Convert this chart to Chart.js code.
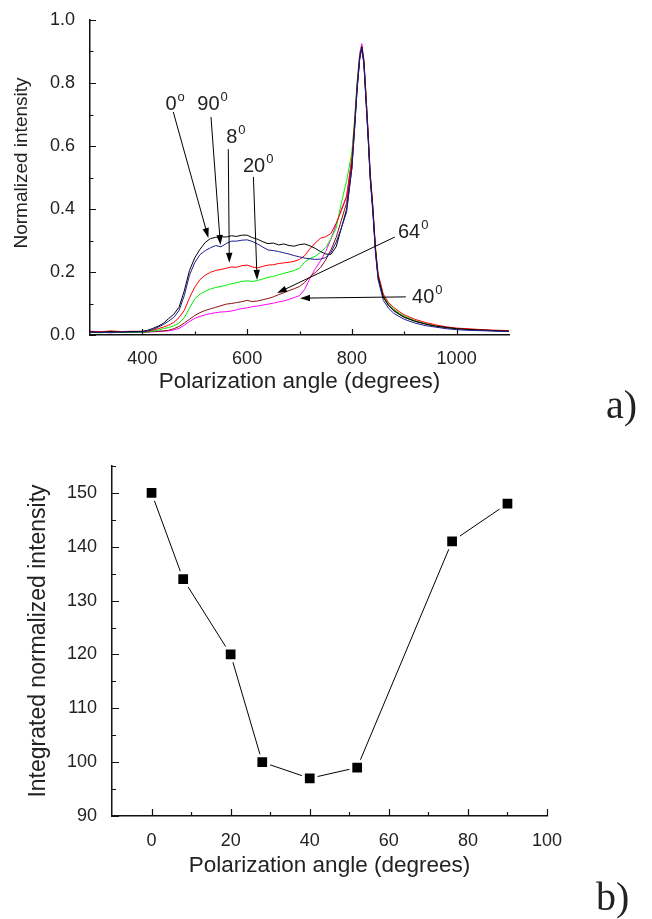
<!DOCTYPE html>
<html>
<head>
<meta charset="utf-8">
<script src="https://cdn.jsdelivr.net/npm/chart.js@4.4.0/dist/chart.umd.min.js"></script>
<style>
  html, body { margin: 0; padding: 0; background: #fff; }
  body { width: 652px; height: 919px; position: relative; overflow: hidden; }
  .box { position: absolute; left: 0; width: 652px; }
  #top { top: 0; height: 440px; }
  #bottom { top: 440px; height: 479px; }
</style>
</head>
<body>
<div class="box" id="top"><canvas id="spectra"></canvas></div>
<div class="box" id="bottom"><canvas id="integrated"></canvas></div>
<script>
// ---- panel a) spectra ----
const xs = [300,320,340,360,380,
  400,410,420,430,440,450,460,470,480,490,
  500,510,520,530,540,550,560,570,580,590,
  600,610,620,630,640,650,660,670,680,690,
  700,710,720,730,740,750,760,770,780,790,
  800,805,810,815,819,823,827,831,835,840,845,850,
  860,870,880,890,900,
  920,940,960,980,1000,1020,1040,1060,1080,1100];

const deg0 = [0.010,0.008,0.011,0.009,0.011,
  0.012,0.015,0.021,0.028,0.037,0.052,0.066,0.088,0.140,0.205,
  0.245,0.272,0.294,0.306,0.310,0.312,0.311,0.315,0.313,0.317,
  0.317,0.309,0.304,0.296,0.290,0.292,0.286,0.289,0.284,0.282,
  0.287,0.289,0.283,0.275,0.265,0.257,0.256,0.280,0.340,0.400,
  0.530,0.650,0.780,0.880,0.915,0.860,0.740,0.630,0.500,0.400,0.270,0.185,
  0.120,0.094,0.077,0.066,0.056,
  0.044,0.035,0.028,0.024,0.020,0.018,0.016,0.015,0.013,0.012];

const deg90 = [0.008,0.009,0.007,0.010,0.009,
  0.010,0.013,0.017,0.025,0.033,0.044,0.056,0.078,0.125,0.190,
  0.230,0.255,0.268,0.277,0.284,0.280,0.290,0.298,0.298,0.301,
  0.302,0.297,0.289,0.279,0.270,0.268,0.265,0.261,0.257,0.252,
  0.248,0.244,0.242,0.240,0.241,0.246,0.262,0.295,0.340,0.390,
  0.530,0.650,0.780,0.875,0.910,0.860,0.745,0.625,0.495,0.390,0.262,0.176,
  0.110,0.085,0.069,0.059,0.050,
  0.038,0.030,0.025,0.020,0.017,0.015,0.014,0.013,0.012,0.011];

const deg8 = [0.012,0.010,0.013,0.011,0.012,
  0.011,0.012,0.015,0.020,0.025,0.031,0.040,0.055,0.078,0.118,
  0.152,0.176,0.190,0.199,0.205,0.208,0.212,0.216,0.215,0.220,
  0.222,0.216,0.213,0.218,0.222,0.223,0.227,0.229,0.231,0.234,
  0.240,0.252,0.274,0.292,0.307,0.312,0.322,0.355,0.395,0.440,
  0.560,0.670,0.790,0.885,0.915,0.870,0.760,0.645,0.515,0.410,0.280,0.195,
  0.130,0.103,0.087,0.075,0.064,
  0.050,0.040,0.032,0.026,0.022,0.020,0.018,0.016,0.015,0.014];

const deg20 = [0.008,0.007,0.009,0.008,0.008,
  0.009,0.010,0.012,0.015,0.020,0.024,0.029,0.038,0.055,0.085,
  0.115,0.130,0.139,0.146,0.151,0.154,0.158,0.163,0.166,0.170,
  0.172,0.170,0.173,0.178,0.183,0.186,0.191,0.196,0.200,0.205,
  0.212,0.232,0.243,0.250,0.262,0.278,0.305,0.340,0.420,0.490,
  0.580,0.680,0.800,0.890,0.915,0.870,0.760,0.640,0.510,0.405,0.275,0.190,
  0.125,0.098,0.082,0.070,0.060,
  0.046,0.036,0.029,0.024,0.020,0.018,0.016,0.015,0.013,0.012];

const deg64 = [0.009,0.010,0.008,0.009,0.010,
  0.009,0.010,0.011,0.012,0.013,0.015,0.020,0.027,0.038,0.050,
  0.062,0.071,0.078,0.083,0.088,0.093,0.098,0.100,0.103,0.106,
  0.110,0.106,0.108,0.112,0.116,0.121,0.128,0.134,0.141,0.147,
  0.154,0.167,0.185,0.198,0.214,0.238,0.270,0.310,0.365,0.420,
  0.550,0.660,0.790,0.880,0.915,0.865,0.755,0.635,0.505,0.400,0.270,0.185,
  0.120,0.094,0.078,0.067,0.057,
  0.044,0.035,0.028,0.023,0.020,0.017,0.016,0.014,0.013,0.012];

const deg40 = [0.011,0.010,0.009,0.011,0.010,
  0.009,0.009,0.010,0.011,0.012,0.013,0.016,0.021,0.031,0.043,
  0.053,0.059,0.064,0.068,0.071,0.073,0.074,0.076,0.080,0.084,
  0.086,0.090,0.092,0.095,0.098,0.101,0.105,0.108,0.113,0.119,
  0.125,0.145,0.180,0.210,0.235,0.265,0.305,0.350,0.400,0.440,
  0.560,0.670,0.800,0.895,0.925,0.875,0.760,0.640,0.510,0.405,0.272,0.187,
  0.122,0.096,0.080,0.068,0.058,
  0.045,0.036,0.029,0.024,0.020,0.018,0.016,0.015,0.013,0.012];

const spectraXTicks = [400, 600, 800, 1000];
const spectraXMinor = [500, 700, 900];
const spectraYTicks = [0, 0.2, 0.4, 0.6, 0.8, 1.0];
const spectraYMinor = [0.1, 0.3, 0.5, 0.7, 0.9];

// annotation labels, in data units (angle label, superscript, label spot, arrow tail, arrow head)
const noteText = ['0', '90', '8', '20', '64', '40'];
const noteSup = ['o', '0', '0', '0', '0', '0'];
const noteAt = [[444, 0.714], [505, 0.714], [560, 0.61], [592, 0.517], [888, 0.308], [915, 0.102]];
const noteFrom = [[459, 0.708], [531, 0.692], [564, 0.59], [612, 0.502], [882, 0.311], [903, 0.121]];
const noteTo = [[526, 0.308], [549, 0.286], [566, 0.229], [619, 0.175], [657, 0.133], [701, 0.117]];

// ---- panel b) integrated intensity ----
const angles = [0, 8, 20, 28, 40, 52, 76, 90];
const integrated = [150, 134, 120, 100, 97, 99, 141, 148];
const angleTicks = [0, 20, 40, 60, 80, 100];
const angleMinor = [10, 30, 50, 70, 90];
const intTicks = [90, 100, 110, 120, 130, 140, 150];
const intMinor = [95, 105, 115, 125, 135, 145, 155];

const FONT = "'Liberation Sans', Arial, sans-serif";
const TEXT = '#222';

const axisTicks = {
  id: 'axisTicks',
  afterDraw(chart, args, o) {
    const {ctx, chartArea: a, scales: {x, y}} = chart;
    ctx.save();
    ctx.strokeStyle = '#111';
    ctx.lineWidth = 1.2;
    ctx.beginPath();
    const tick = (vals, len, dir) => vals.forEach(v => {
      if (dir === 'x') {
        const p = Math.round(x.getPixelForValue(v)) + 0.5;
        ctx.moveTo(p, a.bottom);
        ctx.lineTo(p, a.bottom - len);
      } else {
        const p = Math.round(y.getPixelForValue(v)) + 0.5;
        ctx.moveTo(a.left, p);
        ctx.lineTo(a.left + len, p);
      }
    });
    tick(o.xMajor, o.major, 'x');
    tick(o.xMinor, o.minor, 'x');
    tick(o.yMajor, o.major, 'y');
    tick(o.yMinor, o.minor, 'y');
    ctx.stroke();
    ctx.restore();
  }
};

const extraText = {
  id: 'extraText',
  afterDraw(chart, args, o) {
    const ctx = chart.ctx;
    ctx.save();
    ctx.fillStyle = TEXT;
    if (o.yTitle) {
      ctx.translate(o.yTitle.x, o.yTitle.y);
      ctx.rotate(-Math.PI / 2);
      ctx.font = '19px ' + FONT;
      ctx.textAlign = 'center';
      ctx.textBaseline = 'middle';
      ctx.fillText(o.yTitle.text, 0, 0);
      ctx.setTransform(1, 0, 0, 1, 0, 0);
    }
    ctx.font = "40px 'Liberation Serif', 'Times New Roman', serif";
    ctx.textAlign = 'left';
    ctx.textBaseline = 'alphabetic';
    ctx.fillText(o.panel.text, o.panel.x, o.panel.y);
    ctx.restore();
  }
};

const arrowNotes = {
  id: 'arrowNotes',
  afterDatasetsDraw(chart) {
    const {ctx, scales: {x, y}} = chart;
    ctx.save();
    ctx.strokeStyle = '#000';
    ctx.fillStyle = '#000';
    ctx.lineWidth = 1;
    noteFrom.forEach((f, i) => {
      const x1 = x.getPixelForValue(f[0]), y1 = y.getPixelForValue(f[1]);
      const x2 = x.getPixelForValue(noteTo[i][0]), y2 = y.getPixelForValue(noteTo[i][1]);
      const ang = Math.atan2(y2 - y1, x2 - x1);
      const len = 10, half = 3.2;
      ctx.beginPath();
      ctx.moveTo(x1, y1);
      ctx.lineTo(x2 - Math.cos(ang) * len * 0.8, y2 - Math.sin(ang) * len * 0.8);
      ctx.stroke();
      ctx.beginPath();
      ctx.moveTo(x2, y2);
      ctx.lineTo(x2 - Math.cos(ang) * len - Math.sin(ang) * half, y2 - Math.sin(ang) * len + Math.cos(ang) * half);
      ctx.lineTo(x2 - Math.cos(ang) * len + Math.sin(ang) * half, y2 - Math.sin(ang) * len - Math.cos(ang) * half);
      ctx.closePath();
      ctx.fill();
    });
    ctx.fillStyle = TEXT;
    ctx.textAlign = 'left';
    ctx.textBaseline = 'alphabetic';
    noteAt.forEach((p, i) => {
      const px = x.getPixelForValue(p[0]), py = y.getPixelForValue(p[1]);
      ctx.font = '20px ' + FONT;
      ctx.fillText(noteText[i], px, py);
      const w = ctx.measureText(noteText[i]).width;
      ctx.font = '13px ' + FONT;
      ctx.fillText(noteSup[i], px + w + 1, py - 9);
    });
    ctx.restore();
  }
};

const tickFont = {family: FONT, size: 18};

function line(label, data, color) {
  return {
    label: label,
    data: xs.map((v, i) => ({x: v, y: data[i]})),
    borderColor: color,
    borderWidth: 1,
    pointRadius: 0,
    fill: false,
    tension: 0
  };
}

new Chart(document.getElementById('spectra'), {
  type: 'line',
  data: {
    datasets: [
      line('90', deg90, '#1c1c94'),
      line('0', deg0, '#000000'),
      line('8', deg8, '#ff0000'),
      line('20', deg20, '#00f000'),
      line('64', deg64, '#8b1010'),
      line('40', deg40, '#ff00ff')
    ]
  },
  options: {
    responsive: true,
    maintainAspectRatio: false,
    animation: false,
    layout: {padding: {top: 20, right: 143, left: 0, bottom: 45}},
    plugins: {
      legend: {display: false},
      tooltip: {enabled: false},
      axisTicks: {xMajor: spectraXTicks, xMinor: spectraXMinor, yMajor: spectraYTicks, yMinor: spectraYMinor, major: 6, minor: 3.5},
      extraText: {yTitle: {text: 'Normalized intensity', x: 22, y: 163}, panel: {text: 'a)', x: 606, y: 418}}
    },
    scales: {
      x: {
        type: 'linear', min: 300, max: 1100,
        afterBuildTicks: s => { s.ticks = spectraXTicks.map(v => ({value: v})); },
        afterFit: s => { s.height = 60; },
        grid: {display: false},
        border: {display: true, color: '#111', width: 1.5},
        ticks: {color: TEXT, font: tickFont, padding: 5, maxRotation: 0, autoSkip: false, callback: v => String(v)},
        title: {display: true, text: 'Polarization angle (degrees)', color: TEXT, font: {family: FONT, size: 22.5}, padding: {top: 0, bottom: 0}}
      },
      y: {
        min: 0, max: 1.0,
        afterBuildTicks: s => { s.ticks = spectraYTicks.map(v => ({value: v})); },
        afterFit: s => { s.width = 90; },
        grid: {display: false},
        border: {display: true, color: '#111', width: 1.5},
        ticks: {color: TEXT, font: tickFont, padding: 7, callback: v => v.toFixed(1)}
      }
    }
  },
  plugins: [axisTicks, extraText, arrowNotes]
});

new Chart(document.getElementById('integrated'), {
  type: 'line',
  data: {
    datasets: [{
      label: 'Integrated',
      data: angles.map((a, i) => ({x: a, y: integrated[i]})),
      borderColor: '#000',
      borderWidth: 1,
      pointStyle: 'rect',
      pointRadius: 9,
      pointBackgroundColor: '#000',
      pointBorderColor: '#fff',
      pointBorderWidth: 3,
      tension: 0
    }]
  },
  options: {
    responsive: true,
    maintainAspectRatio: false,
    animation: false,
    layout: {padding: {top: 26, right: 105, left: 0, bottom: 33}},
    plugins: {
      legend: {display: false},
      tooltip: {enabled: false},
      axisTicks: {xMajor: angleTicks, xMinor: angleMinor, yMajor: intTicks, yMinor: intMinor, major: 7, minor: 4},
      extraText: {panel: {text: 'b)', x: 596, y: 470}}
    },
    scales: {
      x: {
        type: 'linear', min: -10, max: 100,
        afterBuildTicks: s => { s.ticks = angleTicks.map(v => ({value: v})); },
        afterFit: s => { s.height = 70; },
        grid: {display: false},
        border: {display: true, color: '#111', width: 1.5},
        ticks: {color: TEXT, font: tickFont, padding: 6, maxRotation: 0, autoSkip: false, callback: v => String(v)},
        title: {display: true, text: 'Polarization angle (degrees)', color: TEXT, font: {family: FONT, size: 22.5}, padding: {top: 0, bottom: 7}}
      },
      y: {
        min: 90, max: 155,
        afterBuildTicks: s => { s.ticks = intTicks.map(v => ({value: v})); },
        afterFit: s => { s.width = 112; },
        grid: {display: false},
        border: {display: true, color: '#111', width: 1.5},
        ticks: {color: TEXT, font: tickFont, padding: 7},
        title: {display: true, text: 'Integrated normalized intensity', color: TEXT, font: {family: FONT, size: 23}, padding: {top: 25, bottom: 0}}
      }
    }
  },
  plugins: [axisTicks, extraText]
});
</script>
</body>
</html>
